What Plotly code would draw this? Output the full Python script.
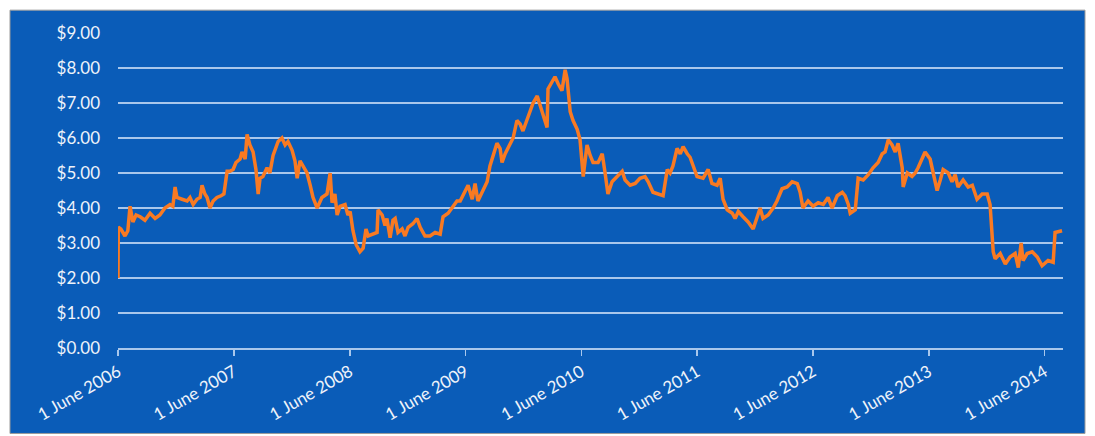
import plotly.graph_objects as go

dates = [
"2006-06-01","2006-06-02","2006-06-10","2006-06-23","2006-07-02","2006-07-09","2006-07-18","2006-07-28",
"2006-08-10","2006-08-25","2006-09-10","2006-09-26","2006-10-11","2006-10-27","2006-11-12","2006-11-21",
"2006-11-28","2006-12-04","2006-12-20","2007-01-05","2007-01-14","2007-01-24","2007-02-05","2007-02-15",
"2007-02-21","2007-03-02","2007-03-09","2007-03-18","2007-03-28","2007-04-09","2007-04-22","2007-05-01",
"2007-05-11","2007-05-20","2007-05-30","2007-06-08","2007-06-21","2007-06-27","2007-07-07","2007-07-13",
"2007-07-22","2007-08-01","2007-08-10","2007-08-17","2007-08-23","2007-09-01","2007-09-14","2007-09-23",
"2007-10-03","2007-10-19","2007-10-31","2007-11-10","2007-11-19","2007-12-02","2007-12-11","2007-12-18",
"2007-12-27","2008-01-05","2008-01-18","2008-01-28","2008-02-06","2008-02-19","2008-03-05","2008-03-21",
"2008-03-31","2008-04-06","2008-04-15","2008-04-22","2008-05-01","2008-05-17","2008-05-26","2008-06-02",
"2008-06-11","2008-06-21","2008-06-27","2008-07-03","2008-07-13","2008-07-22","2008-07-29","2008-08-13",
"2008-08-26","2008-08-29","2008-09-11","2008-09-20","2008-09-26","2008-10-06","2008-10-15","2008-10-22",
"2008-10-31","2008-11-13","2008-11-22","2008-12-02","2008-12-17","2008-12-30","2009-01-09","2009-01-24",
"2009-02-09","2009-02-25","2009-03-13","2009-03-22","2009-04-07","2009-04-19","2009-05-05","2009-05-15",
"2009-05-30","2009-06-09","2009-06-22","2009-07-01","2009-07-10","2009-07-23","2009-08-08","2009-08-17",
"2009-08-27","2009-09-08","2009-09-18","2009-09-24","2009-10-04","2009-10-19","2009-10-29","2009-11-10",
"2009-11-20","2009-11-29","2009-12-12","2009-12-21","2009-12-31","2010-01-13","2010-01-22","2010-01-31",
"2010-02-13","2010-02-16","2010-03-01","2010-03-10","2010-03-20","2010-04-01","2010-04-11","2010-04-17",
"2010-04-27","2010-05-06","2010-05-19","2010-05-28","2010-06-07","2010-06-19","2010-06-29","2010-07-08",
"2010-07-24","2010-08-06","2010-08-15","2010-08-24","2010-09-06","2010-09-22","2010-10-08","2010-10-17",
"2010-11-02","2010-11-18","2010-12-03","2010-12-19","2010-12-29","2011-01-13","2011-01-29","2011-02-14",
"2011-02-27","2011-03-08","2011-03-17","2011-03-30","2011-04-09","2011-04-18","2011-05-01","2011-05-10",
"2011-05-20","2011-06-01","2011-06-20","2011-07-06","2011-07-18","2011-08-03","2011-08-13","2011-08-22",
"2011-09-04","2011-09-20","2011-09-29","2011-10-09","2011-10-24","2011-11-09","2011-11-25","2011-12-07",
"2011-12-17","2011-12-26","2012-01-11","2012-01-27","2012-02-08","2012-02-24","2012-03-11","2012-03-27",
"2012-04-12","2012-04-21","2012-04-30","2012-05-16","2012-06-01","2012-06-17","2012-07-03","2012-07-18",
"2012-07-31","2012-08-16","2012-09-01","2012-09-10","2012-09-20","2012-09-26","2012-10-12","2012-10-21",
"2012-11-06","2012-11-22","2012-12-07","2012-12-23","2013-01-05","2013-01-14","2013-01-24","2013-02-05",
"2013-02-15","2013-02-24","2013-03-09","2013-03-12","2013-03-25","2013-04-09","2013-04-19","2013-04-28",
"2013-05-11","2013-05-20","2013-06-05","2013-06-14","2013-06-27","2013-07-07","2013-07-16","2013-08-01",
"2013-08-13","2013-08-23","2013-09-01","2013-09-17","2013-10-03","2013-10-16","2013-10-31","2013-11-16",
"2013-12-02","2013-12-11","2013-12-21","2013-12-27","2014-01-12","2014-01-28","2014-02-12","2014-02-28",
"2014-03-10","2014-03-19","2014-03-25","2014-04-07","2014-04-23","2014-05-09","2014-05-24","2014-06-12",
"2014-06-28","2014-07-04","2014-07-26",
]

prices = [
2.00,3.45,3.40,3.20,3.35,4.05,3.60,3.80,
3.75,3.65,3.85,3.70,3.80,4.00,4.10,4.05,
4.60,4.30,4.25,4.20,4.30,4.10,4.25,4.30,
4.65,4.40,4.30,4.00,4.20,4.30,4.35,4.40,
5.05,5.05,5.10,5.30,5.40,5.60,5.40,6.10,
5.80,5.60,5.10,4.40,4.85,4.90,5.15,5.00,
5.50,5.90,6.00,5.80,5.90,5.65,5.35,4.85,
5.35,5.20,5.00,4.65,4.30,4.00,4.30,4.40,
5.00,4.15,4.40,3.80,4.05,4.10,3.80,3.90,
3.35,2.95,2.85,2.75,2.85,3.40,3.20,3.25,
3.30,3.95,3.80,3.50,3.70,3.15,3.65,3.70,
3.30,3.40,3.20,3.45,3.55,3.70,3.45,3.20,
3.20,3.30,3.25,3.75,3.85,4.00,4.20,4.20,
4.45,4.65,4.25,4.70,4.20,4.45,4.75,5.20,
5.50,5.85,5.70,5.30,5.55,5.80,6.00,6.50,
6.40,6.20,6.55,6.75,7.00,7.20,6.95,6.65,
6.30,7.40,7.60,7.75,7.55,7.35,7.95,7.70,
6.75,6.50,6.25,5.95,4.90,5.80,5.50,5.30,
5.30,5.55,5.00,4.40,4.75,4.90,5.05,4.80,
4.65,4.70,4.85,4.90,4.75,4.45,4.40,4.35,
5.10,5.00,5.20,5.70,5.55,5.75,5.55,5.45,
5.20,4.90,4.85,5.10,4.70,4.65,4.85,4.25,
3.95,3.85,3.70,3.90,3.75,3.60,3.40,3.70,
4.00,3.70,3.80,4.00,4.20,4.55,4.60,4.75,
4.70,4.45,4.00,4.20,4.05,4.15,4.10,4.30,
4.00,4.35,4.45,4.35,4.10,3.85,3.95,4.85,
4.80,4.95,5.15,5.30,5.55,5.60,5.95,5.80,
5.60,5.85,5.15,4.60,5.00,4.90,5.00,5.15,
5.40,5.60,5.40,5.00,4.50,4.80,5.10,5.00,
4.75,4.95,4.60,4.80,4.60,4.65,4.25,4.40,
4.40,4.10,2.75,2.55,2.70,2.40,2.60,2.70,
2.30,3.00,2.50,2.70,2.75,2.60,2.35,2.50,
2.45,3.30,3.35,
]

tick_dates = ["2006-06-01","2007-06-01","2008-06-01","2009-06-01","2010-06-01",
              "2011-06-01","2012-06-01","2013-06-01","2014-06-01"]
tick_labels = ["1 June 2006","1 June 2007","1 June 2008","1 June 2009","1 June 2010",
               "1 June 2011","1 June 2012","1 June 2013","1 June 2014"]
y_ticks = [0,1,2,3,4,5,6,7,8,9]
y_labels = ["$0.00","$1.00","$2.00","$3.00","$4.00","$5.00","$6.00","$7.00","$8.00","$9.00"]

BLUE = "#0A5CB8"
ORANGE = "#F97A22"
GRID = "#A9C7EC"
TXT = "#EEF3FA"

W, H = 1095, 436
L, R, T, B = 118, 32, 33, 86
pw, ph = W - L - R, H - T - B

fig = go.Figure()
fig.add_trace(go.Scatter(x=dates, y=prices, mode="lines",
                         line=dict(color=ORANGE, width=3.5), hoverinfo="skip"))

fig.add_shape(type="rect", xref="paper", yref="paper",
              x0=(10 - L) / pw, x1=(1085 - L) / pw,
              y0=-B / ph, y1=(H - B - 10) / ph,
              fillcolor=BLUE, line=dict(color="#9A9A9A", width=1), layer="below")

fig.update_layout(
    width=W, height=H,
    margin=dict(l=L, r=R, t=T, b=B, pad=0),
    paper_bgcolor="white", plot_bgcolor=BLUE,
    showlegend=False,
    font=dict(family="Lato", size=17, color=TXT),
    xaxis=dict(type="date", range=["2006-06-01", "2014-07-29"],
               tickvals=tick_dates, ticktext=tick_labels, tickangle=-30,
               showgrid=False, zeroline=False,
               showline=True, linecolor=GRID, linewidth=1.5,
               ticks="outside", ticklen=6, tickcolor=GRID, tickwidth=1.5,
               tickfont=dict(family="Lato", size=17, color=TXT)),
    yaxis=dict(range=[0, 9], tickvals=y_ticks, ticktext=y_labels,
               showgrid=True, gridcolor=GRID, gridwidth=1.5,
               zeroline=False, showline=False, ticks="",
               ticklabelstandoff=17,
               tickfont=dict(family="Lato", size=17, color=TXT)),
)

fig.write_html("out.html", config={"displayModeBar": False, "staticPlot": True})
